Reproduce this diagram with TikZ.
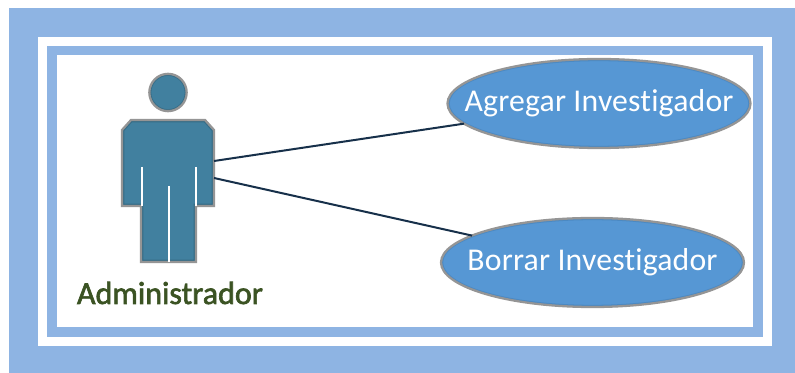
\documentclass[tikz,border=0pt]{standalone}
\usepackage{fontspec}
\setmainfont[Ligatures=NoCommon, LetterSpace=0.6]{Carlito}
\newfontfamily\rotulofont[Ligatures=NoCommon, FakeBold=2]{Carlito}
\usetikzlibrary{shapes.geometric}
\definecolor{marco}{HTML}{8EB4E3}
\definecolor{caso}{HTML}{5697D4}
\definecolor{casoborde}{HTML}{3F78AE}
\definecolor{actor}{HTML}{41809F}
\definecolor{actorborde}{HTML}{2C5A70}
\definecolor{contorno}{HTML}{959595}
\definecolor{linea}{HTML}{17304A}
\definecolor{rotulo}{HTML}{3B5323}
\newcommand{\siluetaactor}{(131, 120) -- (205, 120) -- (214, 130) -- (214, 206) -- (196, 206)
    -- (196, 262) -- (141, 262) -- (141, 206) -- (122, 206) -- (122, 130) -- cycle}
\newcommand{\textouso}[1]{\makebox[0pt]{\raisebox{-1.5pt}{#1}}}
\tikzset{
    caseuso/.style={ellipse, fill=caso, inner sep=0pt, minimum width=227pt, minimum height=66pt,
        text=white, font=\fontsize{23.8}{26}\selectfont},
    bordeuso/.style={draw=contorno, line width=1.7pt},
    union/.style={line width=1.5pt, draw=linea}
}
\begin{document}
\begin{tikzpicture}[x=0.75pt, y=-0.75pt]
    \useasboundingbox (0, 0) rectangle (795, 373);

    % Frame
    \fill[marco] (9, 8) rectangle (795, 373);
    \fill[white] (38, 37) rectangle (772, 346);
    \fill[marco] (47, 46) rectangle (763, 337);
    \fill[white] (57, 55) rectangle (753, 327);

    % Actor
    \fill[actor] (168, 92.5) circle (14pt);
    \draw[actorborde, opacity=.5, line width=1pt] (168, 92.5) circle (13pt);
    \draw[contorno, line width=1.7pt] (168, 92.5) circle (14pt);
    \fill[actor] \siluetaactor;
    \begin{scope}
        \clip \siluetaactor;
        \draw[actorborde, opacity=.5, line width=3.4pt] \siluetaactor;
    \end{scope}
    \draw[contorno, line width=1.7pt] \siluetaactor;
    \draw[white, line width=1pt] (142, 167) -- (142, 206);
    \draw[white, line width=1pt] (196, 167) -- (196, 206);
    \draw[white, line width=1pt] (169, 186) -- (169, 262);
    \node[text=rotulo, font=\fontsize{24}{26}\rotulofont] (admin) at (170, 293) {Administrador};

    % Use cases
    \node[caseuso] (agregar) at (599, 103.5) {\textouso{Agregar Investigador}};
    \node[caseuso] (borrar) at (592.5, 262.5) {\textouso{Borrar Investigador}};
    \foreach \uso in {agregar, borrar} {
        \draw[casoborde, opacity=.45, line width=1pt] (\uso.center) ellipse [x radius=150, y radius=43];
        \draw[bordeuso] (\uso.center) ellipse [x radius=151.5, y radius=44.5];
    }

    % Connectors
    \coordinate (brazoA) at (214, 161);
    \coordinate (brazoB) at (214, 178);
    \draw[union] (brazoA) -- (agregar);
    \draw[union] (brazoB) -- (borrar);
\end{tikzpicture}
\end{document}
